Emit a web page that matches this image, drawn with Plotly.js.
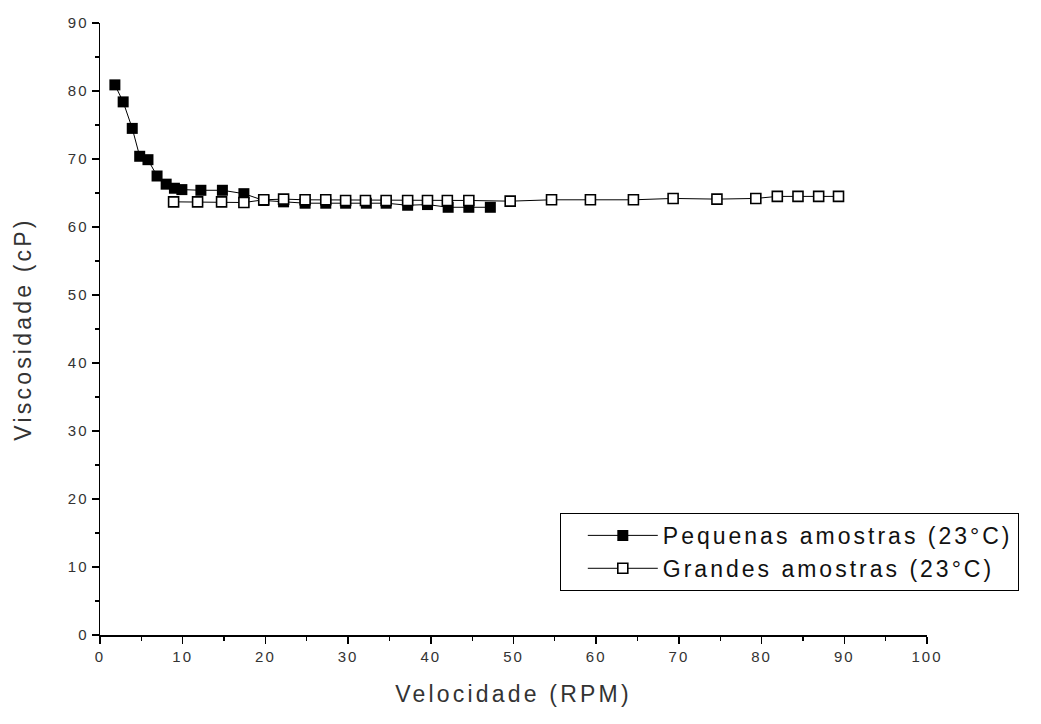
<!DOCTYPE html>
<html>
<head>
<meta charset="utf-8">
<script src="https://cdn.plot.ly/plotly-3.0.1.min.js"></script>
<style>
  html, body { margin: 0; padding: 0; background: #fff; }
  #chart { width: 1041px; height: 724px; }
  g.xtick text, g.ytick text { letter-spacing: 2px; }
  svg text.xtitle, svg text.ytitle { letter-spacing: 3.2px; }
  svg text.legendtext { letter-spacing: 3px; }
</style>
</head>
<body>
<div id="chart"></div>
<script>
// Pequenas amostras (23°C) — filled squares
const pequenasRPM = [1.8, 2.8, 3.9, 4.8, 5.8, 6.9, 8.0, 9.0, 9.9, 12.2, 14.8, 17.4, 19.8, 22.2, 24.8, 27.3, 29.7, 32.2, 34.6, 37.2, 39.6, 42.1, 44.6, 47.2];
const pequenasVisc = [80.9, 78.4, 74.5, 70.4, 69.9, 67.5, 66.3, 65.7, 65.5, 65.4, 65.4, 64.9, 63.9, 63.7, 63.5, 63.5, 63.5, 63.5, 63.5, 63.2, 63.3, 62.9, 62.9, 62.9];

// Grandes amostras (23°C) — open squares
const grandesRPM = [8.9, 11.8, 14.7, 17.4, 19.8, 22.2, 24.8, 27.3, 29.7, 32.1, 34.6, 37.2, 39.6, 42.0, 44.6, 49.6, 54.6, 59.3, 64.5, 69.3, 74.6, 79.3, 81.9, 84.4, 86.9, 89.3];
const grandesVisc = [63.7, 63.7, 63.7, 63.6, 64.0, 64.1, 64.0, 64.0, 63.9, 63.9, 63.9, 63.9, 63.9, 63.9, 63.9, 63.8, 64.0, 64.0, 64.0, 64.2, 64.1, 64.2, 64.5, 64.5, 64.5, 64.5];

const seriesNames = ["Pequenas amostras (23°C)", "Grandes amostras (23°C)"];
const xTitle = "Velocidade (RPM)";
const yTitle = "Viscosidade (cP)";

const fontFam = "Liberation Sans, Arial, sans-serif";

const traces = [
  {
    x: pequenasRPM, y: pequenasVisc, name: seriesNames[0],
    type: "scatter", mode: "lines+markers",
    line: { color: "#000", width: 1 },
    marker: { symbol: "square", size: 11, color: "#000", line: { width: 0 } }
  },
  {
    x: grandesRPM, y: grandesVisc, name: seriesNames[1],
    type: "scatter", mode: "lines+markers",
    line: { color: "#000", width: 1 },
    marker: { symbol: "square", size: 10, color: "#fff", line: { color: "#000", width: 1.6 } }
  }
];

const axisCommon = {
  showline: true, linecolor: "#000", linewidth: 1.5,
  ticks: "outside", ticklen: 7, tickwidth: 1.5, tickcolor: "#000",
  showgrid: false, zeroline: false, mirror: false,
  tickfont: { family: fontFam, size: 15, color: "#333" },
  dtick: 10, tick0: 0,
  minor: { dtick: 5, ticks: "outside", ticklen: 4, tickwidth: 1.2, tickcolor: "#000", showgrid: false }
};

const layout = {
  width: 1041, height: 724,
  margin: { l: 100, r: 114, t: 23, b: 89 },
  paper_bgcolor: "#fff", plot_bgcolor: "#fff",
  showlegend: true,
  xaxis: Object.assign({}, axisCommon, {
    range: [0, 100], autorange: false,
    title: { text: xTitle, font: { family: fontFam, size: 23, color: "#333" }, standoff: 22 }
  }),
  yaxis: Object.assign({}, axisCommon, {
    range: [0, 90], autorange: false,
    title: { text: yTitle, font: { family: fontFam, size: 23, color: "#333" }, standoff: 30 }
  }),
  legend: {
    x: 0.556, y: 0.072, xanchor: "left", yanchor: "bottom",
    bgcolor: "#fff", bordercolor: "#000", borderwidth: 1,
    font: { family: fontFam, size: 23, color: "#111" },
    itemwidth: 70, indentation: 22, tracegroupgap: 0
  }
};

Plotly.newPlot("chart", traces, layout, { staticPlot: true, displayModeBar: false });
</script>
</body>
</html>
